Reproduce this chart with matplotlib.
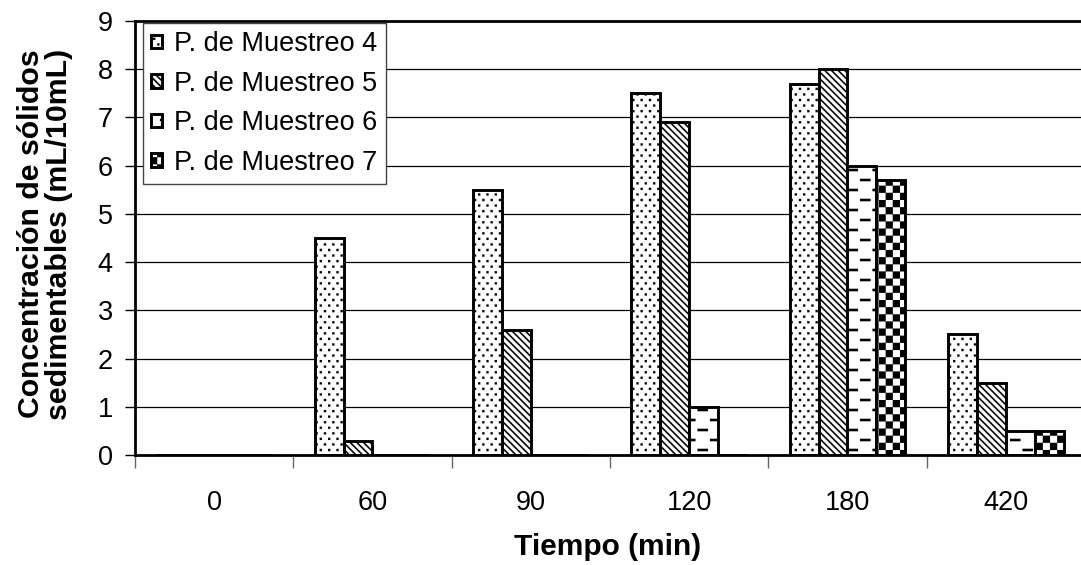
import warnings
warnings.filterwarnings("ignore")
import numpy as np
import matplotlib
matplotlib.use("Agg")
import matplotlib.pyplot as plt
import matplotlib.hatch as mhatch
from matplotlib.path import Path

# ---------------- data ----------------
categories = ["0", "60", "90", "120", "180", "420"]
series_names = ["P. de Muestreo 4", "P. de Muestreo 5", "P. de Muestreo 6", "P. de Muestreo 7"]
muestreo4 = [0, 4.5, 5.5, 7.5, 7.7, 2.5]
muestreo5 = [0, 0.3, 2.6, 6.9, 8.0, 1.5]
muestreo6 = [0, 0, 0, 1.0, 6.0, 0.5]
muestreo7 = [0, 0, 0, 0, 5.7, 0.5]
yticks = [0, 1, 2, 3, 4, 5, 6, 7, 8, 9]
xlabel = "Tiempo (min)"
ylabel = "Concentración de sólidos\nsedimentables (mL/10mL)"

# ---------------- custom hatches (hatch tile = 1 inch = 100 px) ----------------
def _rect(x, y, w, h):
    return [(x, y), (x + w, y), (x + w, y + h), (x, y + h)]

class CustomHatch(mhatch.HatchPatternBase):
    def __init__(self, hatch, density):
        polys = []
        if 'p' in hatch:  # staggered dots
            nc, nr, s = 12, 18, 0.022
            for r in range(nr + 1):
                off = 0.5 / nc if r % 2 else 0.0
                for c in range(-1, nc + 1):
                    polys.append(_rect(c / nc + off - s / 2, r / nr - s / 2, s, s))
        if 'n' in hatch:  # backslash diagonals
            n, w = 15, 0.021
            for k in range(-2, 2 * n + 3):
                c = k / n
                polys.append([(-0.1, c + 0.1), (1.1, c - 1.1), (1.1, c - 1.1 + w), (-0.1, c + 0.1 + w)])
        if 'm' in hatch:  # staggered dashes
            nc, nr, L, t = 4, 10, 0.105, 0.024
            for r in range(nr + 1):
                off = 0.60 if r % 2 == 0 else 0.475
                for c in range(-2, nc + 2):
                    polys.append(_rect(c / nc + off, r / nr - t / 2, L, t))
        if 'k' in hatch:  # checkerboard
            n = 14
            s = 1.0 / n
            for i in range(n):
                for j in range(n):
                    if (i + j) % 2 == 0:
                        polys.append(_rect(i * s, j * s, s, s))
        self.polys = polys
        self.num_vertices = 5 * len(polys)

    def set_vertices_and_codes(self, vertices, codes):
        for i, p in enumerate(self.polys):
            vertices[5 * i:5 * i + 4] = p
            vertices[5 * i + 4] = p[0]
            codes[5 * i] = Path.MOVETO
            codes[5 * i + 1:5 * i + 4] = Path.LINETO
            codes[5 * i + 4] = Path.CLOSEPOLY

mhatch._hatch_types.append(CustomHatch)

plt.rcParams['hatch.linewidth'] = 0.1
plt.rcParams['font.family'] = ['Liberation Sans', 'DejaVu Sans']

hatches = ['p', 'n', 'm', 'k']

# ---------------- figure ----------------
W, H = 1081, 565
fig = plt.figure(figsize=(W / 100, H / 100), dpi=100)
ax = fig.add_axes([135 / W, (H - 455) / H, 950 / W, 434 / H])

series = [muestreo4, muestreo5, muestreo6, muestreo7]
x = np.arange(len(categories))
bw = 0.183
handles = []
for i, (vals, name, h) in enumerate(zip(series, series_names, hatches)):
    bars = ax.bar(x + (i - 1.5) * bw, vals, bw, facecolor='white', edgecolor='black',
                  hatch=h, linewidth=2.1, label=name, zorder=2)
    handles.append(bars)

ax.set_xlim(-0.5, len(categories) - 0.5)
ax.set_ylim(0, 9)
ax.set_yticks(yticks)
ax.yaxis.grid(True, color='black', linewidth=0.9, zorder=0)
ax.set_axisbelow(True)

ax.set_xticks(x)
ax.set_xticklabels(categories, fontsize=19.5)
ax.set_xticks(np.arange(len(categories) + 1) - 0.5, minor=True)
ax.tick_params(axis='x', which='major', length=0, pad=25)
ax.tick_params(axis='x', which='minor', length=9, width=1, color='#666666', direction='out')
ax.tick_params(axis='y', which='major', length=7, width=1, labelsize=19.5, pad=9, direction='out')

for sp in ax.spines.values():
    sp.set_linewidth(2.0)
    sp.set_color('black')

leg = ax.legend(handles=handles, labels=series_names, loc='upper left',
                bbox_to_anchor=(143 / W, 1 - 23 / H), bbox_transform=fig.transFigure,
                borderaxespad=0, fontsize=19.5, handlelength=0.4, handleheight=0.4,
                handletextpad=0.45, labelspacing=0.5, borderpad=0.3, fancybox=False,
                framealpha=1, edgecolor='#444444')
leg.get_frame().set_linewidth(1.0)

fig.text(45 / W, 1 - 234 / H, ylabel, rotation=90, ha='center', va='center',
         multialignment='center', fontsize=21.8, fontweight='bold', linespacing=1.02)
fig.text(608 / W, 1 - 547 / H, xlabel, ha='center', va='center', fontsize=21.5, fontweight='bold')

fig.savefig('out.png', dpi=100)
